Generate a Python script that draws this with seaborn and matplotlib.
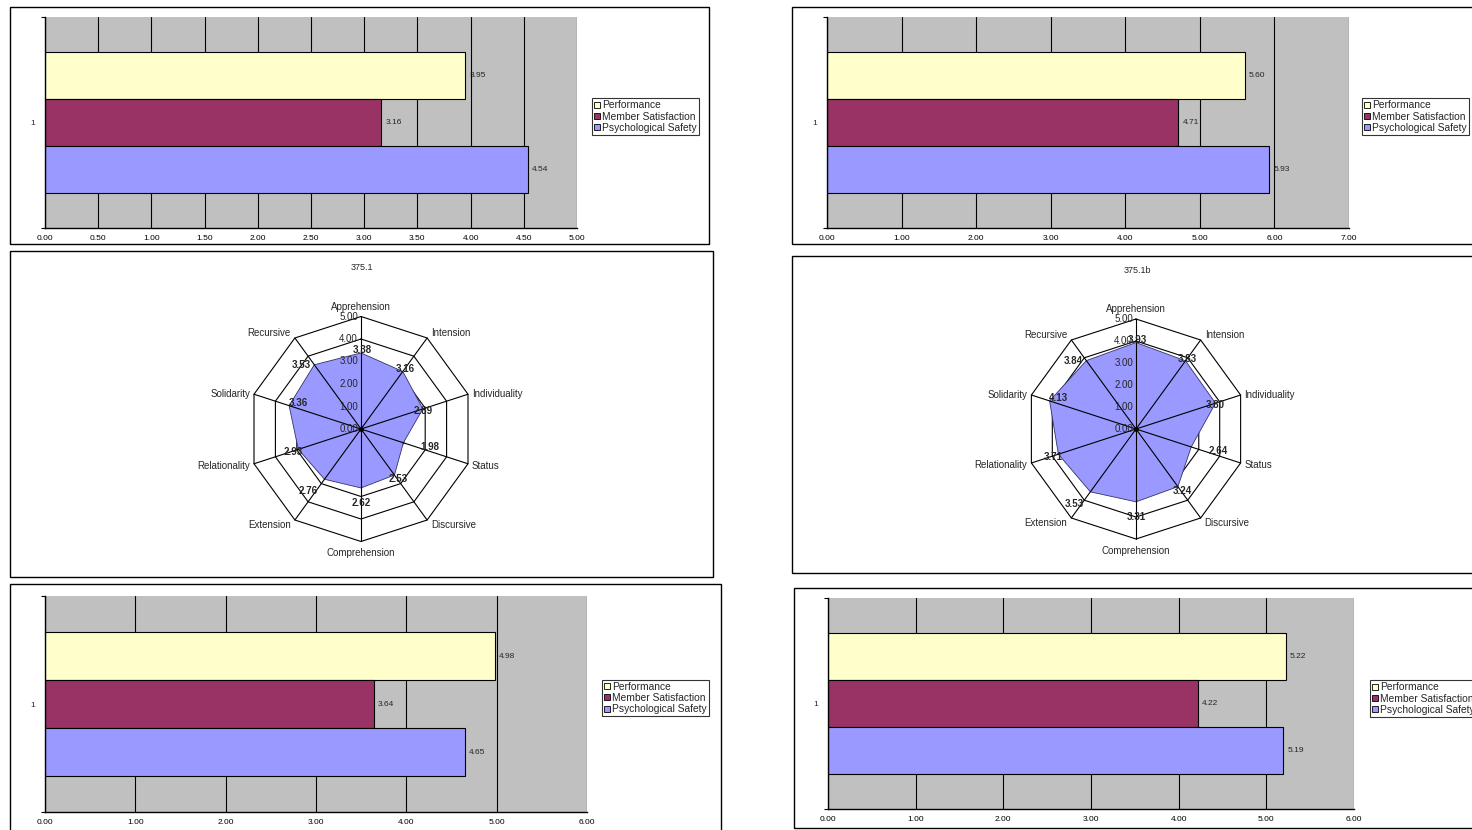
import numpy as np
import pandas as pd
import matplotlib
matplotlib.use("Agg")
import matplotlib.pyplot as plt
from matplotlib.patches import Rectangle, Patch
import seaborn as sns

# ---------------- data ----------------
bar_series = ["Performance", "Member Satisfaction", "Psychological Safety"]
bar_colors = ["#FFFFCC", "#993366", "#9999FF"]
category = ["1"]

top_left_values = [3.95, 3.16, 4.54]
top_right_values = [5.60, 4.71, 5.93]
bottom_left_values = [4.98, 3.64, 4.65]
bottom_right_values = [5.22, 4.22, 5.19]

top_left_ticks = [0.0, 0.5, 1.0, 1.5, 2.0, 2.5, 3.0, 3.5, 4.0, 4.5, 5.0]
top_right_ticks = [0, 1, 2, 3, 4, 5, 6, 7]
bottom_left_ticks = [0, 1, 2, 3, 4, 5, 6]
bottom_right_ticks = [0, 1, 2, 3, 4, 5, 6]

radar_axes = ["Apprehension", "Intension", "Individuality", "Status", "Discursive",
              "Comprehension", "Extension", "Relationality", "Solidarity", "Recursive"]
radar_a_title = "375.1"
radar_a_values = [3.38, 3.16, 2.89, 1.98, 2.53, 2.62, 2.76, 2.93, 3.36, 3.53]
radar_b_title = "375.1b"
radar_b_values = [3.93, 3.83, 3.80, 2.64, 3.24, 3.31, 3.53, 3.71, 4.13, 3.84]
radar_rings = [0, 1, 2, 3, 4, 5]

# ---------------- style ----------------
sns.set_theme(style="white")
plt.rcParams["font.family"] = ["Liberation Sans", "DejaVu Sans"]

W, H = 1472, 830
fig = plt.figure(figsize=(W / 100, H / 100), dpi=100)
fig.patch.set_facecolor("white")


def fbox(x0, y0, x1, y1):
    return [x0 / W, 1 - y1 / H, (x1 - x0) / W, (y1 - y0) / H]


def frame(x0, y0, x1, y1):
    r = Rectangle((x0 / W, 1 - y1 / H), (x1 - x0) / W, (y1 - y0) / H,
                  transform=fig.transFigure, fill=False, edgecolor="black",
                  linewidth=1.0, zorder=0)
    fig.add_artist(r)


def bar_panel(frame_box, plot_box, values, ticks, legend_xy):
    frame(*frame_box)
    ax = fig.add_axes(fbox(*plot_box))
    df = pd.DataFrame({"cat": category * len(bar_series),
                       "series": bar_series,
                       "value": values})
    sns.barplot(data=df, y="cat", x="value", hue="series", hue_order=bar_series,
                palette=bar_colors, orient="h", width=2 / 3, edgecolor="black",
                linewidth=0.8, saturation=1, legend=False, ax=ax)
    ax.set_facecolor("#C0C0C0")
    ax.set_axisbelow(True)
    ax.set_xlim(ticks[0], ticks[-1])
    ax.set_ylim(0.5, -0.5)
    ax.set_xticks(ticks)
    ax.set_xticklabels([f"{t:.2f}" for t in ticks], fontsize=6)
    ax.tick_params(axis="x", length=0, pad=5, colors="black")
    ax.set_yticks([-0.5, 0.5])
    ax.set_yticklabels(["", ""])
    ax.set_yticks([0], minor=True)
    ax.set_yticklabels(category, minor=True, fontsize=6)
    ax.tick_params(axis="y", which="major", length=3, width=0.8, direction="out",
                   left=True, color="black")
    ax.tick_params(axis="y", which="minor", length=0, pad=7, left=True)
    ax.grid(axis="x", color="black", linewidth=0.8)
    ax.grid(axis="y", visible=False)
    for s in ["top", "right"]:
        ax.spines[s].set_visible(False)
    for s in ["left", "bottom"]:
        ax.spines[s].set_color("black")
        ax.spines[s].set_linewidth(1.0)
    ax.set_xlabel("")
    ax.set_ylabel("")
    for cont in ax.containers:
        ax.bar_label(cont, fmt="%.2f", padding=3, fontsize=6)
    handles = [Patch(facecolor=c, edgecolor="black", linewidth=0.6) for c in bar_colors]
    leg = ax.legend(handles, bar_series, loc="center left",
                    bbox_to_anchor=(legend_xy[0] / W, 1 - legend_xy[1] / H),
                    bbox_transform=fig.transFigure, frameon=True, fancybox=False,
                    fontsize=7.4, handlelength=0.55, handleheight=0.55,
                    handletextpad=0.25, borderpad=0.22, labelspacing=0.12,
                    borderaxespad=0)
    leg.get_frame().set_edgecolor("black")
    leg.get_frame().set_linewidth(0.8)
    return ax


label_offsets = [(1, 3), (2, 2), (0, -2), (27, -4), (4, -4),
                 (0, -15), (-16, -12), (-5, -3), (9, 3), (-13, 0)]


def radar_panel(frame_box, title, title_xy, center, radius, values):
    frame(*frame_box)
    fig.text(title_xy[0] / W, 1 - title_xy[1] / H, title, ha="center", va="center",
             fontsize=6.5)
    cx, cy = center
    ax = fig.add_axes(fbox(cx - radius, cy - radius, cx + radius, cy + radius),
                      projection="polar")
    ax.set_theta_offset(np.pi / 2)
    ax.set_theta_direction(-1)
    ax.set_ylim(0, radar_rings[-1])
    ax.set_axis_off()
    n = len(radar_axes)
    theta = np.arange(n) * 2 * np.pi / n
    theta_c = np.append(theta, theta[0])
    for r in radar_rings[1:]:
        ax.plot(theta_c, [r] * (n + 1), color="black", linewidth=0.8, zorder=1,
                clip_on=False)
    vals_c = np.append(values, values[0])
    ax.fill(theta_c, vals_c, facecolor="#9999FF", edgecolor="#333366",
            linewidth=0.6, zorder=2)
    for t in theta:
        ax.plot([t, t], [0, radar_rings[-1]], color="black", linewidth=0.8,
                zorder=3, clip_on=False)
    ax.plot([0], [0], marker="o", markersize=2.5, color="black", zorder=4)
    # radial tick labels
    for r in radar_rings:
        ax.annotate(f"{r:.2f}", xy=(0, r), xytext=(-3, 0), textcoords="offset pixels",
                    ha="right", va="center", fontsize=7, zorder=5,
                    annotation_clip=False)
    # category labels
    rmax = radar_rings[-1]
    for t, name in zip(theta, radar_axes):
        s, c = np.sin(t), np.cos(t)
        if abs(s) < 0.05:
            ha = "center"
        else:
            ha = "left" if s > 0 else "right"
        if c > 0.7:
            va = "bottom"
        elif c < -0.7:
            va = "top"
        else:
            va = "center"
        dx = 4 * np.sign(s) if abs(s) > 0.05 else 0
        if abs(s) < 0.05:
            dy = 5 if c > 0 else -7
        else:
            dy = -2 if -0.7 <= c < 0 else 0
        ax.annotate(name, xy=(t, rmax), xytext=(dx, dy), textcoords="offset pixels",
                    ha=ha, va=va, fontsize=7, annotation_clip=False)
    # data labels
    for t, v, off in zip(theta, values, label_offsets):
        ax.annotate(f"{v:.2f}", xy=(t, v), xytext=off, textcoords="offset pixels",
                    ha="center", va="center", fontsize=7, fontweight="bold",
                    zorder=6, annotation_clip=False)
    return ax


bar_panel((10, 7, 709, 244), (45, 17, 577, 228), top_left_values, top_left_ticks,
          (592, 116.5))
bar_panel((792, 7, 1490, 244), (827, 17, 1349, 228), top_right_values,
          top_right_ticks, (1362, 116.5))
radar_panel((10, 251, 713, 577), radar_a_title, (362, 267), (361, 429), 112.5,
            radar_a_values)
radar_panel((792, 256, 1490, 573), radar_b_title, (1137, 270), (1136, 429), 110,
            radar_b_values)
bar_panel((10, 584, 721, 845), (45, 596, 587, 812), bottom_left_values,
          bottom_left_ticks, (602, 698))
bar_panel((794, 588, 1490, 828), (828, 598, 1354, 809), bottom_right_values,
          bottom_right_ticks, (1370, 698.5))

fig.savefig("out.png", dpi=100, facecolor="white")
